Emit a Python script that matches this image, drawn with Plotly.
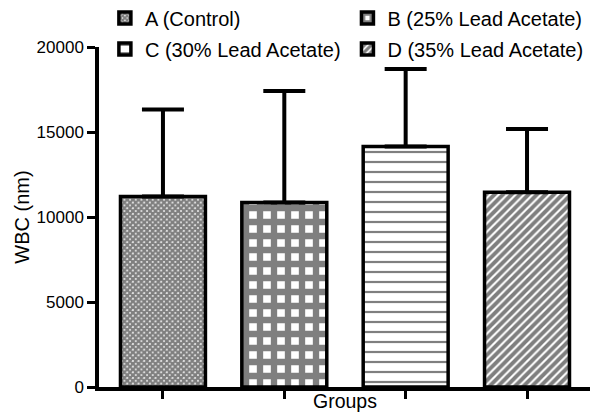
import plotly.graph_objects as go

groups = ["A (Control)", "B (25% Lead Acetate)", "C (30% Lead Acetate)", "D (35% Lead Acetate)"]
means = [11200, 10850, 14150, 11450]
sems = [5120, 6560, 4550, 3730]
y_ticks = [0, 5000, 10000, 15000, 20000]

patterns = [
    dict(shape="x", size=4, solidity=0.85),
    dict(shape="+", size=14, solidity=0.7),
    dict(shape="-", size=10, solidity=0.22),
    dict(shape="/", size=6, solidity=0.65),
]
legend_ids = ["legend", "legend2", "legend3", "legend4"]
# legend anchor positions (paper x, container y)
legend_x = [0.012, 0.506, 0.012, 0.506]
legend_y = [1 - 18 / 415, 1 - 18 / 415, 1 - 49 / 415, 1 - 49 / 415]

FONT = "Arial, Liberation Sans, sans-serif"
fig = go.Figure()
for i, (g, m, s, p, lg) in enumerate(zip(groups, means, sems, patterns, legend_ids)):
    fig.add_trace(go.Bar(
        x=[i], y=[m], name=g, width=0.70, legend=lg,
        marker=dict(color="white", line=dict(color="black", width=3.5),
                    pattern=dict(fgcolor="black", bgcolor="white", **p)),
        error_y=dict(type="data", array=[s], arrayminus=[0], symmetric=False,
                     color="black", thickness=4, width=21),
    ))

legends = {}
for lg, lx, ly in zip(legend_ids, legend_x, legend_y):
    legends[lg] = dict(orientation="h", x=lx, xanchor="left", yref="container", y=ly,
                       yanchor="middle", font=dict(size=20), bgcolor="rgba(0,0,0,0)")

fig.update_layout(
    width=591, height=415,
    margin=dict(l=99, r=1, t=47, b=28, autoexpand=False),
    plot_bgcolor="white", paper_bgcolor="white",
    font=dict(family=FONT, size=17, color="black"),
    showlegend=True,
    bargap=0.3,
    **legends,
)
fig.add_annotation(text="Groups", x=0.5, xref="paper", y=-(413 - 387) / 340, yref="paper",
                   xanchor="center", yanchor="bottom", showarrow=False, font=dict(size=19.5),
                   borderpad=0)
fig.update_xaxes(range=[-0.527, 3.519], tickvals=[0, 1, 2, 3], showticklabels=False,
                 ticks="outside", ticklen=8, tickwidth=3, tickcolor="black",
                 showline=True, linecolor="black", linewidth=3.5, showgrid=False, zeroline=False,
                 automargin=False)
fig.update_yaxes(range=[0, 20000], tickvals=y_ticks, ticktext=[str(t) for t in y_ticks],
                 ticks="outside", ticklen=8, tickwidth=3, tickcolor="black",
                 showline=True, linecolor="black", linewidth=3.5, showgrid=False, zeroline=False,
                 title=dict(text="WBC (nm)", standoff=3, font=dict(size=20)), automargin=False)

fig.write_html("out.html", config={"displayModeBar": False},
               post_script="document.body.style.margin='0';document.body.style.padding='0';")
